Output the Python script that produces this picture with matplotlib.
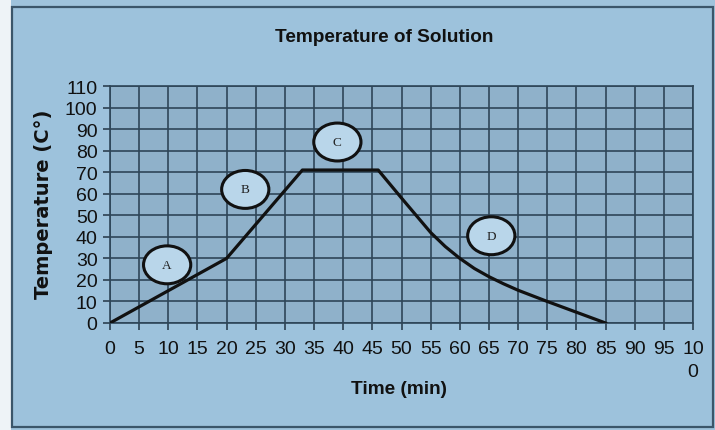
import matplotlib
matplotlib.use("Agg")
import matplotlib.pyplot as plt
from matplotlib.patches import Ellipse, Rectangle

# Data
time_min = [0, 20, 33, 46, 50, 52.5, 55, 57.5, 60, 62.5, 65, 67.5, 70, 75, 80, 85]
temp_c = [0, 30, 71, 71, 58, 50, 42, 35.5, 30, 25.3, 21.5, 18.2, 15.2, 10, 5, 0]
x_ticks = list(range(0, 101, 5))
x_tick_labels = [str(v) for v in range(0, 100, 5)] + ["10\n0"]
y_ticks = list(range(0, 111, 10))
y_tick_labels = [str(v) for v in y_ticks]
phase_labels = ["A", "B", "C", "D"]
phase_x = [9.8, 23.2, 39.0, 65.4]
phase_y = [27.0, 62.0, 84.0, 40.5]

W, H = 715, 431
fig = plt.figure(figsize=(W / 100, H / 100), dpi=100)
fig.patch.set_facecolor("#9fc3dc")

# outer frame
fig.patches.append(Rectangle((0, 0), 11 / W, 1, transform=fig.transFigure,
                             facecolor="#eef3f7", edgecolor="none", zorder=-3))
fig.patches.append(Rectangle((12 / W, (H - 428) / H), (713 - 12) / W, (428 - 8) / H,
                             transform=fig.transFigure, facecolor="#9dc2dc",
                             edgecolor="#3b566a", linewidth=1.6, zorder=-2))

ax = fig.add_axes([110 / W, (H - 324) / H, (693 - 110) / W, (324 - 87) / H])
ax.set_zorder(1)
ax.set_facecolor("#8fb1ca")
ax.set_xlim(0, 100)
ax.set_ylim(0, 110)

ax.set_xticks(x_ticks)
ax.set_xticklabels(x_tick_labels, va="top", ha="center", linespacing=1.5)
ax.set_yticks(y_ticks)
ax.set_yticklabels(y_tick_labels)
ax.tick_params(axis="both", length=5, width=1.2, color="#2b4050", direction="out",
               labelsize=14, labelcolor="#111111", pad=4)
ax.tick_params(axis="x", pad=7)
for lab in ax.get_xticklabels() + ax.get_yticklabels():
    lab.set_fontfamily("Liberation Sans")

ax.grid(True, color="#2e4658", linewidth=1.2)
ax.set_axisbelow(True)
for s in ax.spines.values():
    s.set_color("#2e4658")
    s.set_linewidth(1.2)

ax.plot(time_min, temp_c, color="#111111", linewidth=2.3, zorder=3,
        solid_joinstyle="round")

for lab, ex, ey in zip(phase_labels, phase_x, phase_y):
    e = Ellipse((ex, ey), width=8.1, height=17.6, facecolor="#b9d6ea",
                edgecolor="#111111", linewidth=2.2, zorder=4)
    ax.add_patch(e)
    ax.text(ex, ey, lab, ha="center", va="center", fontsize=9.5,
            family="Liberation Serif", color="#222222", zorder=5)

fig.text(384 / W, 1 - 37 / H, "Temperature of Solution", ha="center", va="center",
         fontsize=13.7, fontweight="bold", family="Liberation Sans", color="#111111")
fig.text(399 / W, 1 - 390 / H, "Time (min)", ha="center", va="center",
         fontsize=13.7, fontweight="bold", family="Liberation Sans", color="#111111")
fig.text(44 / W, 1 - 204 / H, "Temperature (C°)", ha="center", va="center",
         rotation=90, fontsize=14, fontweight="bold", family="DejaVu Sans",
         color="#111111")

fig.savefig("out.png", dpi=100, facecolor=fig.get_facecolor())
